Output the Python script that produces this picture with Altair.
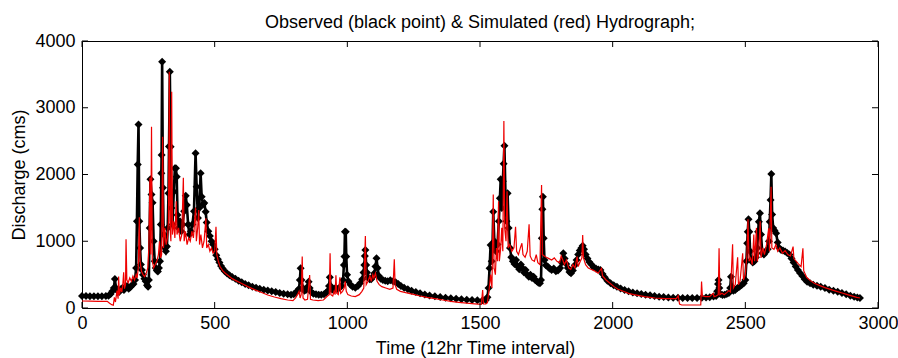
import altair as alt
import pandas as pd

# Observed discharge (cms) at 12-hour time steps
obs_time = [
    0, 15, 30, 45, 60, 75, 90, 100, 108, 114,
    120, 124, 128, 134, 140, 146, 152, 158, 164, 170,
    176, 182, 188, 194, 200, 204, 207, 210, 213, 216,
    219, 222, 226, 230, 235, 240, 245, 249, 252, 255,
    258, 262, 266, 270, 274, 278, 282, 286, 290, 294,
    297, 299, 300, 302, 305, 308, 312, 316, 320, 323,
    326, 328, 331, 334, 337, 341, 346, 350, 354, 357,
    360, 364, 369, 374, 379, 385, 391, 395, 400, 405,
    410, 416, 422, 428, 432, 437, 442, 447, 451, 456,
    461, 466, 470, 476, 482, 488, 494, 500, 506, 512,
    518, 524, 530, 538, 547, 556, 566, 578, 590, 602,
    615, 628, 642, 656, 670, 685, 700, 715, 730, 745,
    760, 775, 788, 798, 806, 812, 818, 821, 824, 827,
    832, 838, 844, 850, 854, 858, 864, 872, 882, 892,
    902, 912, 920, 927, 931, 934, 937, 942, 948, 955,
    962, 970, 978, 984, 987, 989, 991, 994, 996, 999,
    1004, 1012, 1020, 1030, 1040, 1048, 1056, 1061, 1064, 1066,
    1068, 1071, 1074, 1078, 1084, 1090, 1096, 1102, 1106, 1110,
    1114, 1119, 1126, 1134, 1143, 1152, 1162, 1172, 1182, 1192,
    1202, 1214, 1228, 1242, 1258, 1274, 1292, 1310, 1330, 1350,
    1370, 1390, 1410, 1430, 1450, 1470, 1490, 1510, 1522, 1528,
    1532, 1536, 1540, 1544, 1547, 1550, 1554, 1560, 1566, 1571,
    1575, 1578, 1582, 1586, 1589, 1592, 1596, 1600, 1604, 1608,
    1613, 1618, 1624, 1630, 1636, 1642, 1648, 1654, 1660, 1666,
    1672, 1678, 1684, 1690, 1696, 1702, 1708, 1714, 1720, 1726,
    1730, 1733, 1735, 1737, 1740, 1743, 1748, 1755, 1762, 1770,
    1778, 1786, 1794, 1802, 1808, 1814, 1819, 1825, 1831, 1837,
    1843, 1850, 1857, 1864, 1870, 1876, 1882, 1887, 1892, 1898,
    1905, 1912, 1920, 1928, 1937, 1946, 1954, 1962, 1970, 1980,
    1992, 2004, 2016, 2030, 2045, 2060, 2076, 2092, 2108, 2124,
    2141, 2158, 2175, 2192, 2210, 2228, 2246, 2264, 2282, 2300,
    2318, 2336, 2352, 2366, 2380, 2390, 2394, 2397, 2399, 2402,
    2406, 2414, 2422, 2430, 2438, 2443, 2446, 2449, 2455, 2462,
    2470, 2478, 2486, 2494, 2500, 2504, 2507, 2509, 2512, 2515,
    2518, 2522, 2528, 2534, 2540, 2545, 2548, 2551, 2555, 2559,
    2564, 2570, 2577, 2584, 2589, 2592, 2595, 2598, 2601, 2605,
    2610, 2616, 2622, 2628, 2635, 2642, 2650, 2658, 2666, 2674,
    2682, 2690, 2698, 2706, 2715, 2724, 2733, 2744, 2756, 2770,
    2784, 2800, 2816, 2832, 2848, 2864, 2880, 2896, 2910, 2922,
    2932,
]
obs_flow = [
    180, 178, 176, 175, 175, 175, 178, 185, 210, 250,
    300, 435, 300, 260, 240, 280, 300, 270, 320, 330,
    290, 310, 340, 360, 420, 600, 1300, 2150, 2750, 1300,
    900, 650, 570, 500, 440, 400, 340, 320, 420, 1200,
    1928, 1700, 1578, 1000, 700, 600, 560, 545, 600, 700,
    1250, 2018, 2292, 3690, 1800, 1100, 900, 850, 920, 1200,
    1718, 2420, 3540, 2417, 1500, 1250, 1742, 2092, 2092, 1967,
    1393, 1200, 1300, 1150, 1250, 1450, 1683, 1543, 1250, 1100,
    1150, 1250, 1450, 2317, 1818, 1350, 1500, 2018, 1668, 1550,
    1573, 1443, 1280, 1150, 1080, 1000, 950, 880, 790, 730,
    680, 630, 590, 550, 515, 490, 465, 440, 410, 385,
    360, 340, 320, 305, 290, 275, 262, 250, 238, 225,
    215, 205, 200, 205, 230, 260, 290, 420, 595, 420,
    300, 260, 270, 320, 395, 300, 240, 215, 205, 200,
    198, 205, 230, 260, 330, 460, 330, 280, 265, 300,
    285, 305, 330, 420, 644, 770, 1143, 1143, 770, 500,
    400, 350, 320, 305, 330, 370, 430, 530, 644, 780,
    869, 644, 530, 460, 430, 430, 470, 520, 620, 744,
    600, 480, 440, 420, 410, 400, 415, 400, 385, 360,
    330, 305, 280, 258, 238, 220, 203, 188, 175, 163,
    153, 145, 137, 130, 124, 120, 117, 115, 120, 160,
    300, 594, 944, 700, 900, 1443, 1000, 850, 950, 1300,
    1643, 1928, 1500, 1900, 2160, 2432, 1700, 1300, 1718, 1200,
    900, 760, 700, 660, 720, 620, 580, 650, 600, 530,
    570, 500, 470, 500, 450, 470, 420, 400, 380, 370,
    420, 1044, 1478, 1668, 1044, 720, 640, 620, 590, 570,
    590, 550, 560, 600, 680, 820, 740, 660, 600, 540,
    520, 560, 640, 720, 800, 860, 900, 934, 880, 800,
    740, 690, 650, 610, 590, 575, 570, 510, 460, 410,
    370, 340, 318, 292, 268, 250, 233, 220, 208, 198,
    190, 180, 170, 163, 158, 155, 152, 150, 150, 150,
    150, 152, 156, 162, 172, 180, 250, 360, 420, 300,
    210, 195, 200, 210, 225, 300, 470, 320, 260, 270,
    300, 320, 345, 370, 420, 700, 969, 1143, 1329, 1143,
    850, 720, 680, 700, 760, 900, 1143, 1293, 1419, 1100,
    820, 800, 840, 880, 1000, 1293, 1618, 2007, 1400, 1200,
    1160, 1120, 980, 900, 870, 860, 845, 825, 800, 740,
    680, 620, 570, 525, 480, 430, 395, 370, 350, 332,
    318, 298, 275, 258, 243, 225, 205, 185, 170, 158,
    148,
]

# Simulated discharge (cms) from the model
sim_time = [
    0, 30, 60, 95, 104, 112, 118, 122, 126, 132,
    136, 138, 141, 146, 150, 154, 157, 160, 164, 166,
    169, 174, 180, 186, 192, 198, 204, 208, 212, 216,
    219, 224, 230, 236, 242, 248, 252, 256, 259, 262,
    265, 270, 276, 282, 288, 292, 296, 300, 304, 307,
    312, 317, 322, 326, 329, 332, 335, 338, 341, 346,
    350, 355, 358, 364, 370, 376, 382, 385, 390, 396,
    402, 408, 414, 420, 428, 431, 436, 440, 443, 448,
    454, 460, 467, 470, 476, 482, 488, 494, 500, 505,
    508, 514, 520, 530, 540, 553, 566, 580, 600, 625,
    650, 675, 700, 725, 750, 775, 795, 805, 812, 818,
    822, 826, 830, 833, 840, 850, 858, 861, 870, 890,
    910, 925, 932, 935, 938, 945, 950, 954, 957, 960,
    966, 972, 975, 982, 988, 992, 996, 1002, 1015, 1030,
    1045, 1055, 1062, 1068, 1071, 1078, 1085, 1090, 1096, 1100,
    1106, 1112, 1120, 1130, 1145, 1160, 1172, 1177, 1180, 1186,
    1200, 1220, 1249, 1275, 1300, 1330, 1360, 1390, 1420, 1450,
    1480, 1505, 1510, 1513, 1522, 1528, 1535, 1540, 1545, 1550,
    1553, 1558, 1562, 1566, 1570, 1573, 1578, 1582, 1586, 1590,
    1593, 1598, 1602, 1606, 1612, 1620, 1628, 1634, 1638, 1645,
    1652, 1658, 1662, 1670, 1678, 1685, 1689, 1696, 1705, 1712,
    1718, 1726, 1732, 1735, 1742, 1750, 1760, 1770, 1780, 1790,
    1800, 1806, 1812, 1818, 1826, 1834, 1842, 1850, 1858, 1866,
    1870, 1878, 1884, 1887, 1890, 1898, 1908, 1918, 1930, 1945,
    1958, 1962, 1975, 1990, 2005, 2020, 2040, 2060, 2080, 2100,
    2120, 2141, 2160, 2180, 2200, 2220, 2240, 2247, 2252, 2260,
    2300, 2332, 2335, 2338, 2350, 2365, 2379, 2382, 2390, 2398,
    2401, 2404, 2412, 2420, 2430, 2438, 2444, 2452, 2455, 2462,
    2471, 2474, 2480, 2490, 2493, 2500, 2506, 2510, 2514, 2520,
    2526, 2532, 2535, 2542, 2545, 2550, 2556, 2559, 2566, 2572,
    2580, 2588, 2591, 2597, 2600, 2608, 2615, 2622, 2630, 2640,
    2650, 2660, 2670, 2680, 2683, 2692, 2700, 2710, 2717, 2720,
    2731, 2745, 2760, 2781, 2800, 2820, 2844, 2865, 2885, 2907,
    2920, 2932,
]
sim_flow = [
    105, 102, 100, 100, 70, 50, 42, 160, 90, 260,
    140, 470, 200, 300, 240, 360, 535, 290, 350, 1030,
    420, 380, 450, 400, 480, 420, 500, 450, 600, 1360,
    700, 550, 500, 470, 520, 600, 900, 1950, 800, 2716,
    700, 600, 650, 700, 800, 1000, 750, 800, 2566, 900,
    1200, 950, 1050, 1300, 3540, 1200, 1000, 3240, 1100, 1300,
    1050, 1600, 1100, 1200, 1000, 1100, 1950, 1000, 1150, 950,
    1050, 1000, 1150, 1050, 1500, 1000, 1200, 1468, 950, 1100,
    900, 1000, 1343, 900, 950, 850, 900, 820, 850, 1218,
    800, 700, 620, 560, 520, 480, 440, 410, 370, 320,
    275, 235, 195, 165, 140, 120, 110, 150, 200, 250,
    150, 200, 770, 150, 120, 130, 494, 130, 120, 110,
    120, 180, 200, 820, 200, 180, 250, 200, 490, 220,
    200, 460, 220, 250, 300, 400, 250, 200, 180, 170,
    200, 250, 300, 1079, 350, 400, 480, 400, 500, 450,
    520, 400, 350, 320, 300, 280, 300, 730, 350, 280,
    250, 230, 205, 180, 160, 140, 120, 100, 85, 72,
    62, 55, 270, 60, 60, 80, 300, 500, 300, 1700,
    600, 500, 900, 700, 1600, 700, 900, 1200, 850, 2800,
    1200, 1000, 1750, 900, 950, 850, 900, 1218, 850, 800,
    900, 969, 800, 760, 850, 1253, 780, 720, 700, 800,
    680, 650, 1843, 800, 780, 760, 740, 720, 750, 700,
    680, 780, 720, 650, 720, 600, 580, 650, 600, 770,
    620, 700, 750, 1094, 750, 650, 600, 580, 560, 520,
    594, 480, 420, 370, 320, 280, 250, 220, 200, 185,
    170, 160, 150, 145, 140, 140, 140, 185, 60, 45,
    45, 45, 395, 180, 170, 170, 220, 170, 180, 200,
    894, 200, 220, 200, 230, 260, 240, 954, 300, 350,
    759, 350, 400, 820, 420, 500, 800, 1330, 700, 750,
    650, 1100, 700, 1200, 700, 800, 1300, 750, 900, 800,
    950, 1193, 850, 1818, 900, 880, 950, 850, 900, 820,
    860, 800, 780, 920, 740, 700, 660, 620, 894, 560,
    460, 410, 370, 335, 305, 280, 250, 225, 200, 175,
    160, 150,
]

x_ticks = [0, 500, 1000, 1500, 2000, 2500, 3000]
y_ticks = [0, 1000, 2000, 3000, 4000]

FONT = "Liberation Sans"
W, H = 796, 267

observed = pd.DataFrame({"t": obs_time, "q": obs_flow})
simulated = pd.DataFrame({"t": sim_time, "q": sim_flow})
xt = pd.DataFrame({"t": x_ticks})
yt = pd.DataFrame({"q": y_ticks})

x_scale = alt.Scale(domain=[0, 3000], nice=False, zero=False)
y_scale = alt.Scale(domain=[0, 4000], nice=False)

x_enc = alt.X(
    "t:Q",
    scale=x_scale,
    axis=alt.Axis(
        values=x_ticks, format="d", title="Time (12hr Time interval)", ticks=False, tickSize=0,
        domain=False, grid=False, labelPadding=6, titlePadding=7,
        labelFont=FONT, labelFontSize=18, titleFont=FONT, titleFontSize=18,
        titleFontWeight="normal", labelColor="black", titleColor="black",
        labelFlush=False, titleX=393,
    ),
)
y_enc = alt.Y(
    "q:Q",
    scale=y_scale,
    axis=alt.Axis(
        values=y_ticks, format="d", title="Discharge (cms)", ticks=False, tickSize=0,
        domain=False, grid=False, labelPadding=7, titlePadding=6,
        labelFont=FONT, labelFontSize=18, titleFont=FONT, titleFontSize=18,
        titleFontWeight="normal", labelColor="black", titleColor="black",
        labelFlush=False,
    ),
)

obs_line = alt.Chart(observed).mark_line(color="black", strokeWidth=2.6).encode(x=x_enc, y=y_enc)
obs_pts = alt.Chart(observed).mark_point(
    shape="diamond", filled=True, size=64, color="black", opacity=1
).encode(x="t:Q", y="q:Q")
sim_line = alt.Chart(simulated).mark_line(color="#ee0000", strokeWidth=1.2).encode(x="t:Q", y="q:Q")

# inward tick marks on all four sides of the box
tick_b = alt.Chart(xt).mark_rule(color="black", strokeWidth=1).encode(
    x="t:Q", y=alt.value(H), y2=alt.value(H - 6))
tick_t = alt.Chart(xt).mark_rule(color="black", strokeWidth=1).encode(
    x="t:Q", y=alt.value(0), y2=alt.value(6))
tick_l = alt.Chart(yt).mark_rule(color="black", strokeWidth=1).encode(
    y="q:Q", x=alt.value(0), x2=alt.value(6))
tick_r = alt.Chart(yt).mark_rule(color="black", strokeWidth=1).encode(
    y="q:Q", x=alt.value(W), x2=alt.value(W - 6))

chart = (
    alt.layer(obs_line, obs_pts, sim_line, tick_b, tick_t, tick_l, tick_r)
    .properties(
        width=W,
        height=H,
        title=alt.TitleParams(
            text="Observed (black point) & Simulated (red) Hydrograph;",
            font=FONT, fontSize=18, fontWeight="normal", color="black",
            anchor="middle", frame="group", offset=0,
        ),
        autosize=alt.AutoSizeParams(type="none"),
        padding={"left": 82, "top": 41, "right": 20, "bottom": 50},
        background="white",
    )
    .configure_view(stroke="black", strokeWidth=1)
)

chart.save("out.html", embed_options={"renderer": "svg", "actions": False})
